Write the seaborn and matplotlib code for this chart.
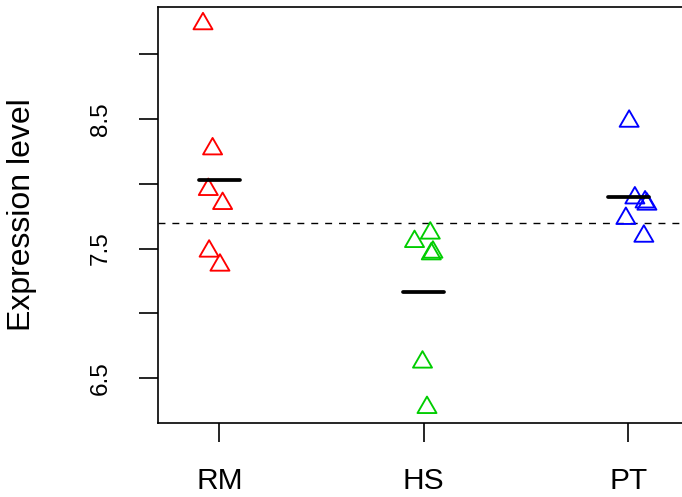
import numpy as np
import pandas as pd
import matplotlib
matplotlib.use("Agg")
import matplotlib.pyplot as plt
from matplotlib.path import Path
import seaborn as sns

# Groups and their expression measurements
groups = ["RM", "HS", "PT"]
colors = ["#FF0000", "#00CD00", "#0000FF"]

rm_values = [9.232, 8.268, 7.955, 7.847, 7.480, 7.372]
hs_values = [7.619, 7.554, 7.459, 7.472, 6.625, 6.275]
pt_values = [8.481, 7.890, 7.859, 7.842, 7.732, 7.595]

# Horizontal jitter applied to each point within its group
rm_jitter = [-0.080, -0.033, -0.054, 0.016, -0.050, 0.003]
hs_jitter = [0.032, -0.045, 0.037, 0.045, -0.006, 0.016]
pt_jitter = [0.005, 0.033, 0.083, 0.092, -0.011, 0.077]

y_ticks = [6.5, 7.0, 7.5, 8.0, 8.5, 9.0]
y_tick_labels = ["6.5", "", "7.5", "", "8.5", ""]

values = [rm_values, hs_values, pt_values]
jitters = [rm_jitter, hs_jitter, pt_jitter]

rows = []
for i, (g, vals, jit) in enumerate(zip(groups, values, jitters)):
    for v, j in zip(vals, jit):
        rows.append({"group": g, "pos": i + j, "value": v})
df = pd.DataFrame(rows)

sns.set_style("ticks")
plt.rcParams["font.family"] = ["Liberation Sans", "DejaVu Sans"]
plt.rcParams["text.color"] = "black"
plt.rcParams["axes.labelcolor"] = "black"

fig = plt.figure(figsize=(6.82, 4.97), dpi=100)
ax = fig.add_axes([0.2317, 0.1489, 0.7792, 0.8370])

# Open triangle whose centroid sits on the data point
tri = Path([(0, 1), (-0.866, -0.5), (0.866, -0.5), (0, 1)], closed=True)

for g, c in zip(groups, colors):
    sub = df[df["group"] == g]
    sns.scatterplot(data=sub, x="pos", y="value", ax=ax, marker=tri, s=250,
                    facecolor="none", edgecolor=c, linewidth=1.35, zorder=3,
                    legend=False)

# Group means
means = df.groupby("group", sort=False)["value"].mean()
for i, g in enumerate(groups):
    ax.hlines(means[g], i - 0.1, i + 0.1, color="black", linewidth=2.7,
              capstyle="round", zorder=4)

# Overall mean
ax.axhline(df["value"].mean(), color="black", linewidth=1.0,
           linestyle=(0, (5, 5)), zorder=2)

ax.set_xlim(-0.3, 2.3)
ax.set_ylim(6.156, 9.3615)
ax.set_xticks(range(len(groups)))
ax.set_xticklabels(groups, va="baseline")
ax.set_yticks(y_ticks)
ax.set_yticklabels(y_tick_labels, rotation=90, va="center")
ax.set_xlabel("")
ax.set_ylabel("Expression level", fontsize=23, color="black")
ax.yaxis.set_label_coords(-0.228, 0.5)

ax.tick_params(axis="both", length=14, width=1.2, color="black",
               labelcolor="black")
ax.tick_params(axis="x", pad=33.5, labelsize=21.5)
ax.tick_params(axis="y", pad=19, labelsize=17.5)

for side in ["left", "right", "top", "bottom"]:
    ax.spines[side].set_visible(True)
    ax.spines[side].set_linewidth(1.2)
    ax.spines[side].set_color("black")

fig.savefig("out.png", dpi=100)
